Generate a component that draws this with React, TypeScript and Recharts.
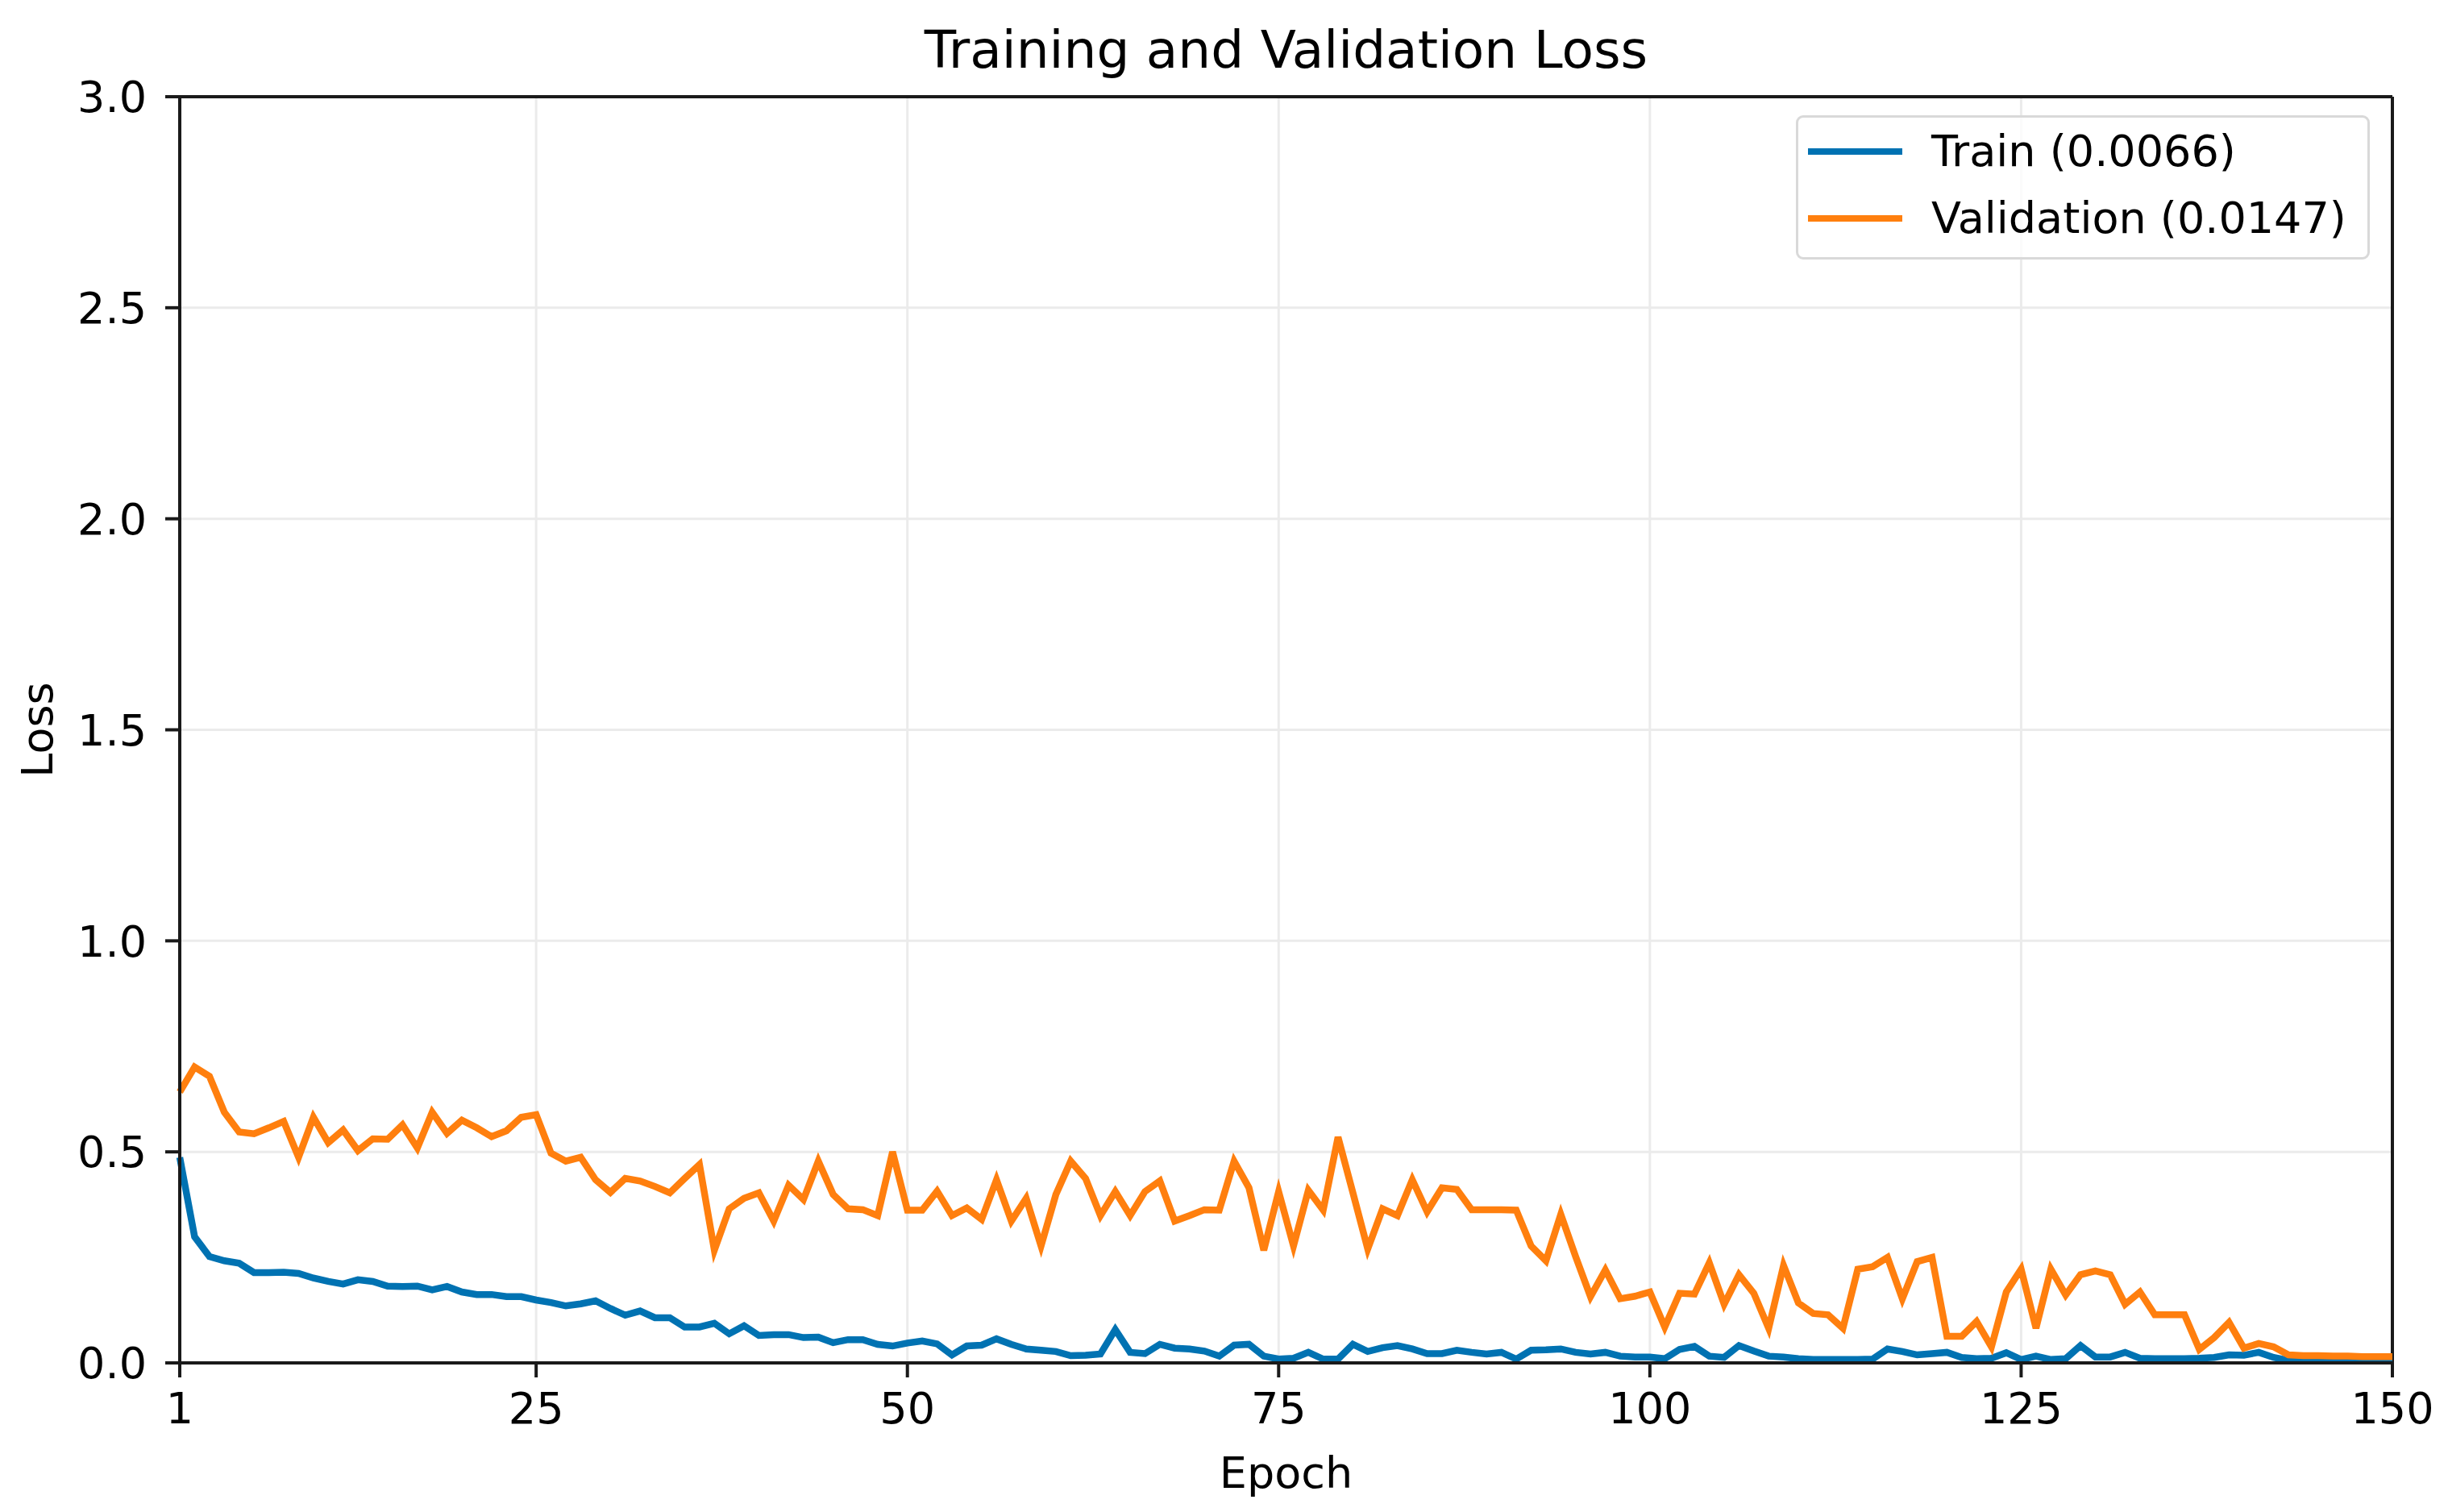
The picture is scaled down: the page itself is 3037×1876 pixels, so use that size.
import React from 'react';
import {
  LineChart,
  Line,
  XAxis,
  YAxis,
  CartesianGrid,
  Legend,
  ReferenceLine,
  Label,
} from 'recharts';

// loss per epoch
const trainLoss = [
  0.487, 0.299, 0.252, 0.242, 0.236, 0.214, 0.214, 0.215, 0.212, 0.201,
  0.193, 0.187, 0.197, 0.193, 0.182, 0.181, 0.182, 0.173, 0.181, 0.168,
  0.162, 0.162, 0.157, 0.157, 0.149, 0.143, 0.135, 0.14, 0.147, 0.129,
  0.113, 0.123, 0.107, 0.107, 0.085, 0.085, 0.094, 0.069, 0.088, 0.065,
  0.067, 0.067, 0.06, 0.061, 0.048, 0.055, 0.055, 0.044, 0.04, 0.047,
  0.052, 0.045, 0.019, 0.04, 0.042, 0.057, 0.044, 0.033, 0.03, 0.027,
  0.017, 0.018, 0.021, 0.079, 0.025, 0.022, 0.044, 0.035, 0.033, 0.028,
  0.016, 0.042, 0.044, 0.016, 0.009, 0.011, 0.025, 0.009, 0.009, 0.044,
  0.027, 0.036, 0.041, 0.033, 0.022, 0.022, 0.03, 0.025, 0.021, 0.025,
  0.009, 0.03, 0.031, 0.033, 0.025, 0.021, 0.025, 0.016, 0.014, 0.014,
  0.01, 0.032, 0.039, 0.016, 0.013, 0.041, 0.028, 0.016, 0.014, 0.01,
  0.008, 0.008, 0.008, 0.008, 0.009, 0.033, 0.027, 0.019, 0.022, 0.025,
  0.013, 0.01, 0.011, 0.024, 0.008, 0.016, 0.008, 0.01, 0.041, 0.014,
  0.014, 0.025, 0.011, 0.01, 0.01, 0.01, 0.011, 0.013, 0.019, 0.018,
  0.025, 0.013, 0.006, 0.006, 0.005, 0.006, 0.005, 0.006, 0.006, 0.0066,
];

const valLoss = [
  0.642, 0.701, 0.679, 0.594, 0.547, 0.543, 0.557, 0.572, 0.487, 0.582,
  0.522, 0.552, 0.503, 0.531, 0.53, 0.564, 0.509, 0.594, 0.544, 0.575,
  0.557, 0.536, 0.55, 0.582, 0.588, 0.497, 0.478, 0.487, 0.434, 0.404,
  0.437, 0.431, 0.418, 0.403, 0.437, 0.47, 0.267, 0.365, 0.39, 0.403,
  0.336, 0.421, 0.387, 0.478, 0.399, 0.365, 0.363, 0.349, 0.5, 0.362,
  0.362, 0.407, 0.349, 0.367, 0.34, 0.434, 0.336, 0.39, 0.277, 0.399,
  0.478, 0.437, 0.349, 0.406, 0.349, 0.406, 0.431, 0.336, 0.349, 0.363,
  0.362, 0.478, 0.415, 0.267, 0.406, 0.277, 0.409, 0.362, 0.535, 0.403,
  0.27, 0.365, 0.349, 0.434, 0.358, 0.415, 0.411, 0.363, 0.363, 0.363,
  0.362, 0.277, 0.242, 0.352, 0.252, 0.157, 0.22, 0.152, 0.158, 0.168,
  0.085, 0.165, 0.163, 0.237, 0.139, 0.209, 0.165, 0.082, 0.231, 0.142,
  0.117, 0.114, 0.082, 0.222, 0.228, 0.25, 0.152, 0.24, 0.25, 0.063,
  0.063, 0.098, 0.038, 0.168, 0.222, 0.082, 0.222, 0.161, 0.209, 0.218,
  0.209, 0.139, 0.168, 0.114, 0.114, 0.114, 0.032, 0.06, 0.096, 0.035,
  0.046, 0.038, 0.019, 0.017, 0.017, 0.016, 0.016, 0.015, 0.015, 0.0147,
];

const epochs = trainLoss.map((_, i) => i + 1);
const xTicks = [1, 25, 50, 75, 100, 125, 150];
const yTicks = [0, 0.5, 1, 1.5, 2, 2.5, 3];

const data = epochs.map((e, i) => ({ epoch: e, train: trainLoss[i], val: valLoss[i] }));

const FONT = "'DejaVu Sans', sans-serif";
const W = 3021;
const H = 1860;
const BLUE = '#0072B2';
const ORANGE = '#FF7F0E';
const SPINE = '#1a1a1a';
const FS = 54;

const last = (arr: number[]) => arr[arr.length - 1];

const renderLegend = (props: any) => {
  const payload = props.payload || [];
  return (
    <div
      style={{
        boxSizing: 'border-box',
        width: 712,
        height: 179,
        border: '3px solid #d9d9d9',
        borderRadius: 9,
        background: 'rgba(255,255,255,0.8)',
        fontFamily: FONT,
      }}
    >
      {payload.map((p: any) => (
        <div key={p.value} style={{ height: 83, display: 'flex', alignItems: 'center' }}>
          <span style={{ marginLeft: 12, width: 117, height: 8, background: p.color }} />
          <span style={{ marginLeft: 36, fontSize: FS, color: '#000', lineHeight: 1 }}>{p.value}</span>
        </div>
      ))}
    </div>
  );
};

const renderLossLabel = (props: any) => {
  const vb = props.viewBox || { y: 112, height: 1571 };
  const cx = 38;
  const cy = vb.y + vb.height / 2;
  return (
    <text
      x={cx}
      y={cy}
      transform={`rotate(-90, ${cx}, ${cy})`}
      textAnchor="middle"
      dominantBaseline="central"
      style={{ fontSize: FS, fontFamily: FONT, fill: '#000' }}
    >
      Loss
    </text>
  );
};

export default function App() {
  const tickStyle = { fill: '#000', fontSize: FS, fontFamily: FONT };
  return (
    <div style={{ position: 'relative', width: W, height: H, fontFamily: FONT, background: '#fff' }}>
      <div
        style={{
          position: 'absolute',
          top: 22,
          left: 215,
          width: 2745,
          textAlign: 'center',
          fontSize: 64.5,
          lineHeight: 1,
          color: '#000',
        }}
      >
        Training and Validation Loss
      </div>
      <LineChart width={W} height={H} data={data} margin={{ top: 112, right: 61, bottom: 0, left: 0 }}>
        <CartesianGrid stroke="#ebebeb" strokeWidth={3} />
        <XAxis
          dataKey="epoch"
          type="number"
          domain={[1, 150]}
          ticks={xTicks}
          height={177}
          tick={tickStyle}
          tickSize={18}
          tickMargin={19}
          axisLine={{ stroke: SPINE, strokeWidth: 4 }}
          tickLine={{ stroke: SPINE, strokeWidth: 4 }}
        >
          <Label value="Epoch" position="insideBottom" offset={22} style={{ fontSize: FS, fontFamily: FONT, fill: '#000' }} />
        </XAxis>
        <YAxis
          type="number"
          domain={[0, 3]}
          ticks={yTicks}
          width={215}
          tick={tickStyle}
          tickSize={18}
          tickMargin={23}
          tickFormatter={(v: number) => v.toFixed(1)}
          axisLine={{ stroke: SPINE, strokeWidth: 4 }}
          tickLine={{ stroke: SPINE, strokeWidth: 4 }}
        >
          <Label content={renderLossLabel} />
        </YAxis>
        <ReferenceLine y={3} stroke={SPINE} strokeWidth={4} />
        <ReferenceLine x={150} stroke={SPINE} strokeWidth={4} />
        <Line
          type="linear"
          dataKey="train"
          name={`Train (${last(trainLoss).toFixed(4)})`}
          stroke={BLUE}
          strokeWidth={8.5}
          dot={false}
          isAnimationActive={false}
        />
        <Line
          type="linear"
          dataKey="val"
          name={`Validation (${last(valLoss).toFixed(4)})`}
          stroke={ORANGE}
          strokeWidth={8.5}
          dot={false}
          isAnimationActive={false}
        />
        <Legend
          layout="vertical"
          align="center"
          verticalAlign="middle"
          content={renderLegend}
          wrapperStyle={{ position: 'absolute', top: 135, left: 2220, width: 712, height: 179 }}
        />
      </LineChart>
    </div>
  );
}
